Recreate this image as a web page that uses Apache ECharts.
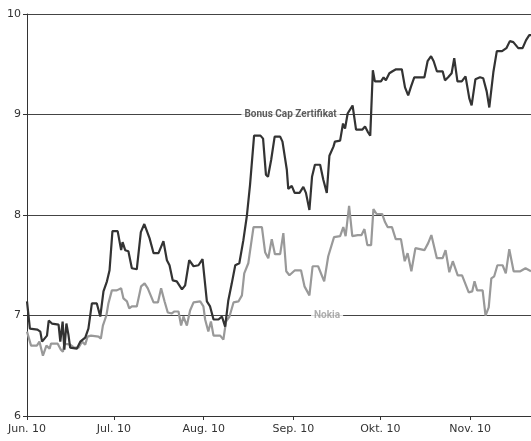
<!DOCTYPE html>
<html>
<head>
<meta charset="utf-8">
<script src="https://cdn.jsdelivr.net/npm/echarts@6/dist/echarts.min.js"></script>
<style>
html,body{margin:0;padding:0;background:#fff;}
#c{width:531px;height:441px;}
</style>
</head>
<body>
<div id="c"></div>
<script>
// x values are days since 1 June 2010
const monthTickDays = [0, 30, 61, 92, 122, 153];
const monthLabels = ['Jun. 10', 'Jul. 10', 'Aug. 10', 'Sep. 10', 'Okt. 10', 'Nov. 10'];
const yTicks = [6, 7, 8, 9, 10];

const bonusDays = [0,1.0,3.6,4.6,5.2,6.9,7.5,8.6,10.9,11.5,12.3,12.9,13.6,14.3,14.9,17.2,18.4,20.1,21.2,22.4,24.1,25.3,26.4,27.6,28.5,29.5,31.3,32.5,33.0,33.9,35.0,36.2,37.9,39.3,40.5,42.3,43.7,45.4,47.1,48.3,49.2,50.3,51.7,53.5,54.6,56.0,57.5,59.2,60.6,62.1,63.2,64.4,66.1,67.3,68.4,69.5,70.7,71.9,73.3,74.7,75.9,77.0,78.4,80.6,81.5,82.5,83.2,84.3,85.5,87.4,88.2,89.7,90.2,91.4,92.4,94.1,95.4,96.3,97.5,98.4,99.4,101.2,102.3,103.5,104.4,105.8,106.3,108.1,109.1,109.8,110.7,111.2,112.4,113.6,115.8,116.7,117.6,118.5,119.4,120.1,122.2,123.1,123.9,125.1,126.2,127.4,129.4,130.5,131.6,132.6,133.7,137.2,138.3,139.5,140.4,141.5,143.5,144.3,145.4,146.6,147.5,148.6,150.1,151.4,152.7,153.5,154.8,156.4,157.5,158.7,159.6,161.0,162.2,164.0,165.5,166.7,167.9,169.6,171.1,172.3,173.4,174];
const bonusValues = [7.14,6.87,6.86,6.84,6.74,6.80,6.95,6.92,6.91,6.74,6.94,6.66,6.92,6.81,6.68,6.67,6.74,6.78,6.87,7.12,7.12,6.99,7.24,7.34,7.45,7.84,7.84,7.65,7.73,7.65,7.64,7.47,7.46,7.83,7.91,7.77,7.62,7.62,7.74,7.55,7.50,7.35,7.34,7.26,7.30,7.55,7.49,7.50,7.56,7.14,7.09,6.96,6.96,6.99,6.89,7.15,7.32,7.50,7.52,7.75,7.99,8.30,8.79,8.79,8.76,8.40,8.38,8.55,8.78,8.78,8.73,8.45,8.26,8.29,8.22,8.22,8.28,8.22,8.05,8.38,8.50,8.50,8.35,8.22,8.59,8.68,8.73,8.74,8.91,8.86,9.01,9.00,9.09,8.85,8.85,8.88,8.83,8.79,9.44,9.33,9.33,9.37,9.34,9.41,9.43,9.45,9.45,9.27,9.19,9.28,9.37,9.37,9.53,9.58,9.53,9.43,9.43,9.34,9.37,9.41,9.56,9.33,9.33,9.38,9.16,9.09,9.35,9.37,9.36,9.23,9.07,9.42,9.63,9.63,9.66,9.73,9.72,9.66,9.66,9.74,9.79,9.79];

const nokiaDays = [0,1.4,3.4,4.3,5.5,6.7,7.8,8.3,10.6,11.7,12.4,12.9,14.9,16.3,17.8,19.0,20.1,20.9,22.1,24.7,25.5,26.2,27.4,28.1,29.3,31.0,32.5,33.3,34.5,35.3,36.2,37.9,39.4,40.6,41.7,43.7,45.2,46.3,47.5,48.6,50.0,50.9,52.3,53.2,54.0,55.2,56.3,57.5,59.8,60.9,61.5,62.6,63.5,64.4,66.7,67.8,68.7,69.9,71.3,73.0,74.2,75.0,76.4,77.3,78.2,81.1,82.2,83.3,84.5,85.6,87.4,88.5,89.5,90.6,92.5,94.6,95.8,97.5,98.6,100.5,102.6,104.0,106.0,108.1,109.2,110.0,111.2,112.3,114.2,115.5,116.5,117.5,118.8,119.6,120.7,122.6,123.6,124.5,126.0,127.3,129.1,130.4,131.4,132.7,134.1,135.7,137.2,138.5,139.6,141.5,143.5,144.5,145.8,147.0,148.7,150.2,152.5,153.7,154.5,155.4,157.3,158.3,159.4,160.3,161.3,162.4,164.2,165.3,166.5,168.0,170.3,172.1,174];
const nokiaValues = [6.84,6.70,6.70,6.74,6.60,6.70,6.67,6.72,6.72,6.66,6.64,6.72,6.71,6.68,6.68,6.74,6.71,6.79,6.80,6.79,6.77,6.90,7.00,7.12,7.25,7.25,7.27,7.17,7.14,7.07,7.09,7.09,7.29,7.32,7.27,7.13,7.13,7.27,7.14,7.03,7.02,7.04,7.04,6.90,6.99,6.90,7.05,7.13,7.14,7.09,6.96,6.84,6.94,6.80,6.80,6.76,6.94,6.99,7.13,7.14,7.20,7.42,7.52,7.70,7.88,7.88,7.63,7.57,7.76,7.61,7.61,7.82,7.44,7.40,7.45,7.45,7.29,7.20,7.49,7.49,7.34,7.59,7.78,7.79,7.88,7.79,8.09,7.79,7.80,7.80,7.86,7.70,7.70,8.06,8.01,8.01,7.93,7.88,7.88,7.76,7.76,7.54,7.62,7.44,7.67,7.66,7.65,7.72,7.80,7.57,7.57,7.65,7.43,7.54,7.40,7.40,7.23,7.24,7.34,7.25,7.25,7.00,7.08,7.37,7.39,7.50,7.50,7.42,7.66,7.44,7.44,7.47,7.44];

const seriesNames = ['Bonus Cap Zertifikat', 'Nokia'];
const labelDays = [91.0, 103.6];
const labelValues = [9, 7];

const FONT = '"DejaVu Sans", sans-serif';
const LABEL_FONT = 'Roboto, "DejaVu Sans", sans-serif';
const chart = echarts.init(document.getElementById('c'), null, {renderer: 'canvas'});

const zip = (a, b) => a.map((x, i) => [x, b[i]]);

chart.setOption({
  animation: false,
  backgroundColor: '#fff',
  grid: {left: 27, right: 0, top: 14, bottom: 25, containLabel: false},
  xAxis: {
    type: 'value', min: 0, max: 174,
    axisLine: {show: true, onZero: false, lineStyle: {color: '#333', width: 1}},
    axisTick: {show: true, length: 4, customValues: monthTickDays, lineStyle: {color: '#333'}},
    axisLabel: {
      customValues: monthTickDays,
      formatter: v => monthLabels[monthTickDays.indexOf(v)] || '',
      color: '#333', fontFamily: FONT, fontSize: 11, margin: 8
    },
    splitLine: {show: false}
  },
  yAxis: {
    type: 'value', min: yTicks[0], max: yTicks[yTicks.length - 1], interval: 1,
    axisLine: {show: true, lineStyle: {color: '#333', width: 1}},
    axisTick: {show: true, length: 4, lineStyle: {color: '#333'}},
    axisLabel: {color: '#333', fontFamily: FONT, fontSize: 11, margin: 6},
    splitLine: {show: true, lineStyle: {color: '#444', width: 1.2}}
  },
  series: [
    {
      name: seriesNames[1], type: 'line', data: zip(nokiaDays, nokiaValues),
      showSymbol: false, symbol: 'none',
      lineStyle: {color: '#999', width: 2.2}, z: 2
    },
    {
      name: seriesNames[0], type: 'line', data: zip(bonusDays, bonusValues),
      showSymbol: false, symbol: 'none',
      lineStyle: {color: '#333', width: 2.2}, z: 3
    },
    {
      type: 'scatter', symbolSize: 0, z: 4,
      data: [
        {value: [labelDays[0], labelValues[0]], label: {formatter: seriesNames[0], color: '#333'}},
        {value: [labelDays[1], labelValues[1]], label: {formatter: seriesNames[1], color: '#999'}}
      ],
      label: {
        show: true, position: 'inside', fontFamily: LABEL_FONT, fontWeight: 'bold', fontSize: 10,
        backgroundColor: '#fff', padding: [2, 3]
      },
      silent: true
    }
  ]
});
</script>
</body>
</html>
